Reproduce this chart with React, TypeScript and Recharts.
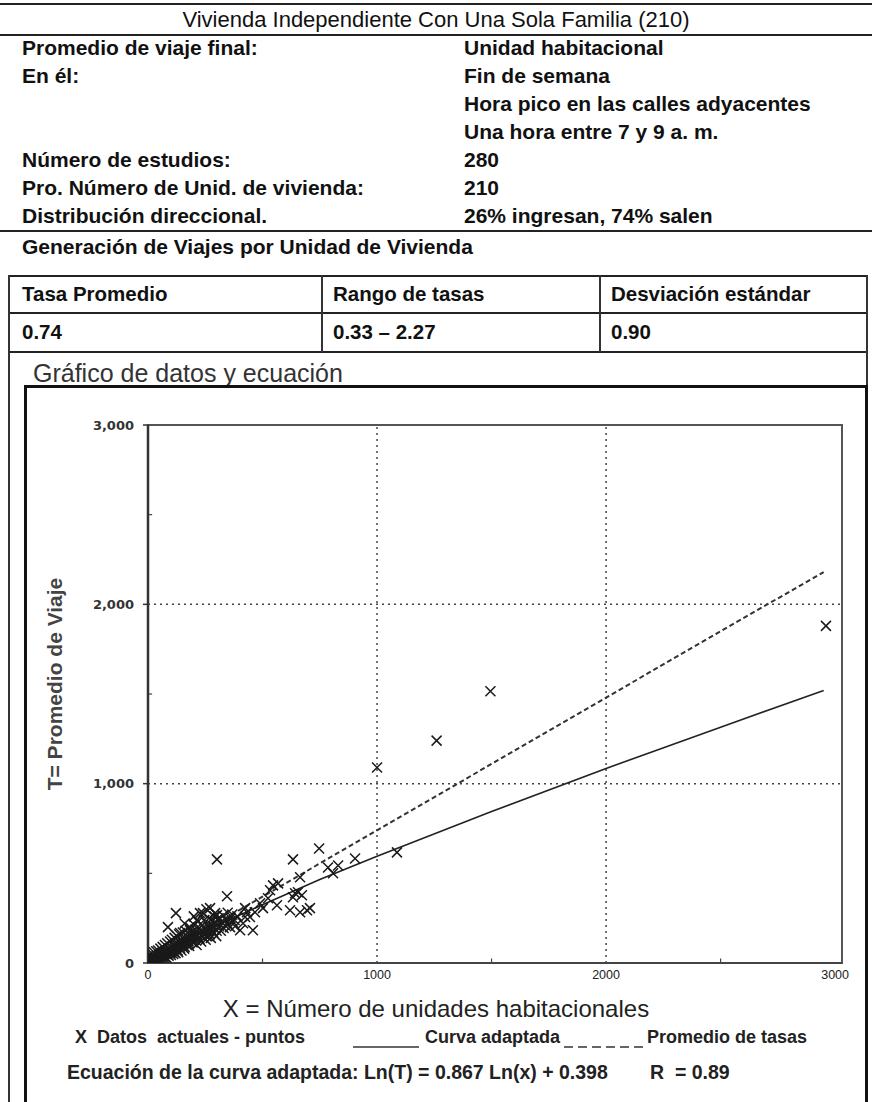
import {
  ComposedChart,
  Line,
  ReferenceArea,
  ReferenceLine,
  Scatter,
  XAxis,
  YAxis,
} from "recharts";

const infoLabels = [
  "Promedio de viaje final:",
  "En él:",
  "",
  "",
  "Número de estudios:",
  "Pro. Número de Unid. de vivienda:",
  "Distribución direccional.",
];
const infoValues = [
  "Unidad habitacional",
  "Fin de semana",
  "Hora pico en las calles adyacentes",
  "Una hora entre 7 y 9 a. m.",
  "280",
  "210",
  "26% ingresan, 74% salen",
];
const rateHeaders = ["Tasa Promedio", "Rango de tasas", "Desviación estándar"];
const rateValues = ["0.74", "0.33 – 2.27", "0.90"];

const xTicks = [0, 1000, 2000, 3000];
const yTicks = [0, 1000, 2000, 3000];
const minorTicks = [500, 1500, 2500];

// observed studies: [units, trips]
const studies: [number, number][] = [
  [5, 8], [10, 5], [12, 15], [15, 10], [18, 20], [20, 12], [22, 25], [25, 18],
  [28, 30], [30, 20], [32, 35], [35, 25], [38, 40], [40, 28], [42, 20], [45, 35],
  [48, 45], [50, 30], [52, 40], [55, 50], [58, 35], [60, 45], [62, 55], [65, 40],
  [68, 60], [70, 48], [72, 35], [75, 55], [78, 65], [80, 50], [82, 70], [85, 58],
  [88, 45], [90, 75], [92, 62], [95, 80], [98, 55], [100, 70], [105, 85], [108, 65],
  [110, 95], [112, 75], [115, 60], [118, 100], [120, 80], [125, 90], [128, 110], [130, 70],
  [135, 100], [138, 120], [140, 85], [145, 110], [148, 95], [150, 125], [155, 105], [158, 80],
  [160, 130], [165, 115], [170, 100], [175, 140], [178, 120], [180, 95], [185, 135], [190, 150],
  [195, 115], [200, 140], [205, 160], [210, 125], [215, 150], [220, 170], [225, 135], [230, 155],
  [235, 180], [240, 145], [245, 165], [250, 190], [255, 150], [260, 175], [265, 200], [270, 160],
  [275, 185], [280, 210], [285, 170], [290, 195], [295, 225], [300, 180], [310, 205], [320, 230],
  [330, 195], [340, 240], [350, 215], [360, 250], [370, 230], [380, 205], [390, 260],
  [8, 30], [14, 40], [20, 50], [26, 60], [30, 5], [36, 65], [44, 70], [46, 10], [54, 80],
  [60, 20], [64, 90], [70, 25], [74, 100], [80, 30], [84, 110], [90, 40], [96, 120], [100, 45],
  [104, 130], [110, 50], [116, 140], [120, 55], [126, 150], [132, 60], [136, 160], [142, 130],
  [146, 70], [152, 170], [160, 90], [164, 180], [170, 150], [176, 110], [182, 200], [188, 170],
  [194, 130], [200, 215], [206, 185], [212, 100], [218, 230], [224, 195], [232, 120], [238, 210],
  [246, 240], [252, 130], [258, 220], [266, 250], [274, 140], [282, 235], [290, 260], [298, 150],
  [308, 250], [318, 180], [328, 265], [336, 210], [348, 280], [358, 200], [368, 270], [378, 240],
  [87, 200], [122, 278], [140, 167], [183, 183], [214, 239], [227, 278], [240, 278], [271, 306],
  [293, 278], [301, 267], [306, 239], [345, 372], [301, 578], [255, 300], [200, 260], [160, 220],
  [402, 183], [415, 222], [424, 256], [424, 306], [432, 283], [445, 256], [458, 183], [467, 283],
  [489, 333], [502, 306], [524, 361], [533, 406], [546, 433], [563, 322], [568, 444], [620, 294],
  [633, 367], [642, 389], [655, 394], [664, 283], [664, 478], [672, 378], [694, 294], [707, 306],
  [633, 578], [747, 639], [786, 533], [808, 500], [830, 544], [904, 583], [1087, 617],
  [1000, 1090], [1260, 1240], [1495, 1515], [2960, 1880],
];

// fitted curve
const fittedX = [10, 100, 250, 500, 750, 1000, 1500, 2000, 2500, 2950];
const fittedT = [12, 80, 180, 325, 465, 595, 845, 1085, 1315, 1520];

// average rate
const averageX = [0, 500, 1000, 1500, 2000, 2500, 2950];
const averageT = [0, 370, 740, 1110, 1480, 1850, 2180];

const scatterData = studies.map(([x, t]) => ({ x, t }));
const fittedData = fittedX.map((x, i) => ({ x, t: fittedT[i] }));
const averageData = averageX.map((x, i) => ({ x, t: averageT[i] }));

const SANS = "'Liberation Sans', Arial, sans-serif";

function Cross(props: any) {
  const { cx, cy } = props;
  const r = 5;
  return (
    <path
      d={`M${cx - r},${cy - r}L${cx + r},${cy + r}M${cx - r},${cy + r}L${cx + r},${cy - r}`}
      stroke="#1a1a1a"
      strokeWidth={1.5}
      fill="none"
    />
  );
}

const fmtY = (v: number) => (v === 0 ? "0" : v.toLocaleString("en-US"));

function Rule({ top, left = 0, width = 872, h = 2 }: { top: number; left?: number; width?: number; h?: number }) {
  return <div style={{ position: "absolute", top, left, width, height: h, background: "#222" }} />;
}

function VRule({ left, top, height, w = 1.5 }: { left: number; top: number; height: number; w?: number }) {
  return <div style={{ position: "absolute", left, top, width: w, height, background: "#333" }} />;
}

export default function App() {
  const rowText = { position: "absolute" as const, fontFamily: SANS, fontWeight: 700, fontSize: 21, color: "#111", lineHeight: "28px", whiteSpace: "nowrap" as const };
  return (
    <div style={{ position: "absolute", left: 0, top: 0, width: 872, height: 1102, overflow: "hidden", background: "#fff", fontFamily: SANS }}>
      <Rule top={3} />
      <div style={{ position: "absolute", top: 5, left: 0, width: 872, textAlign: "center", fontSize: 22, lineHeight: "29px", color: "#111" }}>
        Vivienda Independiente Con Una Sola Familia (210)
      </div>
      <Rule top={34} />
      {infoLabels.map((label, i) => (
        <div key={"l" + i} style={{ ...rowText, top: 34 + 28 * i, left: 22 }}>{label}</div>
      ))}
      {infoValues.map((value, i) => (
        <div key={"v" + i} style={{ ...rowText, top: 34 + 28 * i, left: 464 }}>{value}</div>
      ))}
      <Rule top={230} />
      <div style={{ ...rowText, top: 233, left: 22 }}>Generación de Viajes por Unidad de Vivienda</div>

      {/* rate table */}
      <Rule top={275} left={8} width={860} h={1.5} />
      <Rule top={312} left={8} width={860} h={1.5} />
      <Rule top={351} left={8} width={860} h={1.5} />
      <VRule left={8} top={275} height={830} />
      <VRule left={866} top={275} height={830} />
      <VRule left={321} top={275} height={77} />
      <VRule left={599} top={275} height={77} />
      {rateHeaders.map((h, i) => (
        <div key={"h" + i} style={{ ...rowText, fontSize: 20.5, top: 280, left: [22, 333, 611][i] }}>{h}</div>
      ))}
      {rateValues.map((v, i) => (
        <div key={"r" + i} style={{ ...rowText, fontSize: 20.5, top: 318, left: [22, 333, 611][i] }}>{v}</div>
      ))}

      <div style={{ position: "absolute", top: 357, left: 33, fontSize: 25, lineHeight: "32px", color: "#333", whiteSpace: "nowrap" }}>
        Gráfico de datos y ecuación
      </div>

      {/* chart frame */}
      <div style={{ position: "absolute", left: 24, top: 385, width: 844, height: 800, border: "3px solid #111", boxSizing: "border-box" }} />

      <div
        style={{
          position: "absolute", left: 55, top: 684, transform: "translate(-50%, -50%) rotate(-90deg)",
          fontSize: 21, fontWeight: 700, color: "#444", whiteSpace: "nowrap",
        }}
      >
        T= Promedio de Viaje
      </div>

      <div style={{ position: "absolute", left: 30, top: 400 }}>
        <ComposedChart width={830} height={600} margin={{ top: 25, right: 18, bottom: 0, left: 0 }}>
          <XAxis
            dataKey="x"
            type="number"
            domain={[0, 3030]}
            allowDataOverflow
            ticks={xTicks}
            tickLine={false}
            tickSize={0}
            tickMargin={7}
            height={37}
            axisLine={{ stroke: "#444", strokeWidth: 2 }}
            tick={{ fill: "#222", fontSize: 12.5, fontFamily: SANS }}
          />
          <YAxis
            dataKey="t"
            type="number"
            domain={[0, 3000]}
            allowDataOverflow
            ticks={yTicks}
            tickFormatter={fmtY}
            tickSize={5}
            tickMargin={9}
            width={118}
            tickLine={{ stroke: "#333", strokeWidth: 1.5 }}
            axisLine={{ stroke: "#333", strokeWidth: 2.5 }}
            tick={{ fill: "#333", fontSize: 13, fontWeight: 700, fontFamily: "'DejaVu Sans', sans-serif" }}
          />
          <ReferenceArea x1={0} x2={3030} y1={0} y2={3000} fill="none" stroke="#555" strokeWidth={2} />
          {[1000, 2000].map((v) => (
            <ReferenceLine key={"gx" + v} x={v} stroke="#444" strokeWidth={1.5} strokeDasharray="2 4" />
          ))}
          {[1000, 2000].map((v) => (
            <ReferenceLine key={"gy" + v} y={v} stroke="#444" strokeWidth={1.5} strokeDasharray="2 4" />
          ))}
          {minorTicks.map((v) => (
            <ReferenceLine key={"mx" + v} segment={[{ x: v, y: 0 }, { x: v, y: 25 }]} stroke="#444" strokeWidth={1.2} />
          ))}
          {minorTicks.map((v) => (
            <ReferenceLine key={"my" + v} segment={[{ x: 0, y: v }, { x: 18, y: v }]} stroke="#444" strokeWidth={1.2} />
          ))}
          <Line
            data={averageData}
            dataKey="t"
            type="linear"
            stroke="#333"
            strokeWidth={2}
            strokeDasharray="5 3"
            dot={false}
            isAnimationActive={false}
          />
          <Line
            data={fittedData}
            dataKey="t"
            type="linear"
            stroke="#222"
            strokeWidth={1.6}
            dot={false}
            isAnimationActive={false}
          />
          <Scatter data={scatterData} dataKey="t" shape={<Cross />} isAnimationActive={false} />
        </ComposedChart>
      </div>

      <div style={{ position: "absolute", top: 994, left: 0, width: 872, textAlign: "center", fontSize: 24, lineHeight: "30px", color: "#222" }}>
        X = Número de unidades habitacionales
      </div>

      {/* legend */}
      <div style={{ position: "absolute", top: 1025, left: 75, fontSize: 18, fontWeight: 700, color: "#222", lineHeight: "24px", whiteSpace: "pre" }}>
        X  Datos  actuales - puntos
      </div>
      <svg style={{ position: "absolute", left: 350, top: 1030 }} width={300} height={24}>
        <line x1={3} x2={69} y1={17} y2={17} stroke="#333" strokeWidth={1.6} />
        <line x1={214} x2={294} y1={17} y2={17} stroke="#333" strokeWidth={1.6} strokeDasharray="9 5" />
      </svg>
      <div style={{ position: "absolute", top: 1025, left: 425, fontSize: 18, fontWeight: 700, color: "#222", lineHeight: "24px", whiteSpace: "pre" }}>
        Curva adaptada
      </div>
      <div style={{ position: "absolute", top: 1025, left: 647, fontSize: 18, fontWeight: 700, color: "#222", lineHeight: "24px", whiteSpace: "pre" }}>
        Promedio de tasas
      </div>

      <div style={{ position: "absolute", top: 1059, left: 67, fontSize: 19.5, fontWeight: 700, color: "#222", lineHeight: "26px", whiteSpace: "pre" }}>
        Ecuación de la curva adaptada: Ln(T) = 0.867 Ln(x) + 0.398
      </div>
      <div style={{ position: "absolute", top: 1059, left: 650, fontSize: 19.5, fontWeight: 700, color: "#222", lineHeight: "26px", whiteSpace: "pre" }}>
        R  = 0.89
      </div>
    </div>
  );
}
